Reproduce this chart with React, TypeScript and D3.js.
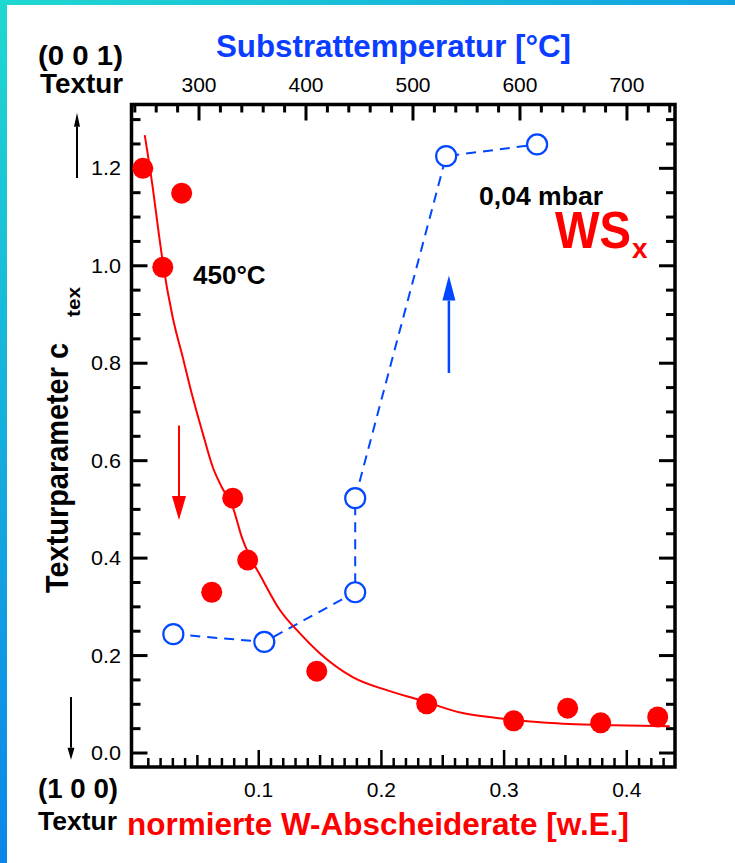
import React, { useRef, useEffect } from 'react';
import * as d3 from 'd3';

// 450°C series: normierte W-Abscheiderate [w.E.] -> Texturparameter
const rateX = [0.0055, 0.0372, 0.0218, 0.0788, 0.091, 0.0617, 0.1473, 0.2369, 0.3078, 0.3518, 0.3787, 0.4252];
const rateY = [1.2, 1.149, 0.997, 0.523, 0.396, 0.33, 0.168, 0.101, 0.066, 0.092, 0.062, 0.074];

// fit curve through the red points
const fitX = [0.0071, 0.0136, 0.0185, 0.0218, 0.0299, 0.0381, 0.0462, 0.0544, 0.0625, 0.0698, 0.0788, 0.0862,
  0.1033, 0.1171, 0.1334, 0.1497, 0.1766, 0.2043, 0.2312, 0.2662, 0.2939, 0.3347, 0.3885, 0.435];
const fitY = [1.268, 1.161, 1.067, 1.007, 0.894, 0.812, 0.73, 0.656, 0.587, 0.546, 0.505, 0.443,
  0.355, 0.294, 0.246, 0.205, 0.156, 0.129, 0.109, 0.082, 0.072, 0.062, 0.057, 0.055];

// 0,04 mbar series: Substrattemperatur [°C] -> Texturparameter
const tempX = [276, 361, 446, 446, 531, 616];
const tempY = [0.244, 0.228, 0.33, 0.523, 1.225, 1.249];

const rateTicks = [0.1, 0.2, 0.3, 0.4];
const tempTicks = [300, 400, 500, 600, 700];
const cTicks = [0.0, 0.2, 0.4, 0.6, 0.8, 1.0, 1.2];

const W = 735;
const H = 863;
const FRAME = { left: 131.5, right: 675, top: 104.5, bottom: 767 };
const RED = '#ff0000';
const BLUE = '#0047ff';
const FONT = '"Liberation Sans", Arial, sans-serif';

const App: React.FC = () => {
  const svgRef = useRef<SVGSVGElement>(null);

  useEffect(() => {
    if (!svgRef.current) return;
    const svg = d3.select(svgRef.current);
    svg.selectAll('*').remove();

    const x = d3.scaleLinear().domain([-0.0037, 0.4393]).range([FRAME.left, FRAME.right]);
    const t = d3.scaleLinear().domain([236.9, 744.9]).range([FRAME.left, FRAME.right]);
    const y = d3.scaleLinear().domain([-0.0287, 1.331]).range([FRAME.bottom, FRAME.top]);

    // Background + gradient frame
    const defs = svg.append('defs');
    const gv = defs.append('linearGradient').attr('id', 'gv').attr('x1', 0).attr('y1', 0).attr('x2', 0).attr('y2', 1);
    gv.append('stop').attr('offset', '0%').attr('stop-color', '#1fd8d0');
    gv.append('stop').attr('offset', '100%').attr('stop-color', '#0a86ea');
    const gh = defs.append('linearGradient').attr('id', 'gh').attr('x1', 0).attr('y1', 0).attr('x2', 1).attr('y2', 0);
    gh.append('stop').attr('offset', '0%').attr('stop-color', '#1fd8d0');
    gh.append('stop').attr('offset', '100%').attr('stop-color', '#12a2e2');

    svg.append('rect').attr('width', W).attr('height', H).attr('fill', '#ffffff');
    svg.append('rect').attr('x', 0).attr('y', 0).attr('width', W).attr('height', 5).attr('fill', 'url(#gh)');
    svg.append('rect').attr('x', 0).attr('y', 0).attr('width', 7).attr('height', H).attr('fill', 'url(#gv)');

    const isMult = (v: number, step: number) => Math.abs(v / step - Math.round(v / step)) < 1e-6;

    // ── ticks ──
    const tk = svg.append('g').attr('stroke', '#000').attr('stroke-width', 3);
    d3.range(0, 1.3001, 0.05).forEach(v => {
      const len = isMult(v, 0.2) ? 16 : 9;
      const yy = y(v);
      tk.append('line').attr('x1', FRAME.left).attr('x2', FRAME.left + len).attr('y1', yy).attr('y2', yy);
      tk.append('line').attr('x1', FRAME.right).attr('x2', FRAME.right - len).attr('y1', yy).attr('y2', yy);
    });
    d3.range(240, 741, 20).forEach(v => {
      const len = v % 100 === 0 ? 16 : 8;
      tk.append('line').attr('x1', t(v)).attr('x2', t(v)).attr('y1', FRAME.top).attr('y2', FRAME.top + len);
    });
    d3.range(0.01, 0.4351, 0.01).forEach(v => {
      const len = isMult(v, 0.1) ? 17 : isMult(v, 0.05) ? 12 : 9;
      tk.append('line').attr('x1', x(v)).attr('x2', x(v)).attr('y1', FRAME.bottom).attr('y2', FRAME.bottom - len)
        .attr('stroke-width', 2.5);
    });

    // frame
    svg.append('rect')
      .attr('x', FRAME.left).attr('y', FRAME.top)
      .attr('width', FRAME.right - FRAME.left).attr('height', FRAME.bottom - FRAME.top)
      .attr('fill', 'none').attr('stroke', '#000').attr('stroke-width', 3.5);

    // tick labels
    const lab = svg.append('g').attr('font-family', FONT).attr('font-size', 21).attr('fill', '#000');
    cTicks.forEach(v => {
      lab.append('text').attr('x', 121).attr('y', y(v) + 7).attr('text-anchor', 'end')
        .attr('font-size', 20).attr('textLength', 30).attr('lengthAdjust', 'spacingAndGlyphs')
        .text(v.toFixed(1));
    });
    tempTicks.forEach(v => {
      lab.append('text').attr('x', t(v)).attr('y', 92).attr('text-anchor', 'middle').text(String(v));
    });
    rateTicks.forEach(v => {
      lab.append('text').attr('x', x(v)).attr('y', 797).attr('text-anchor', 'middle').text(v.toFixed(1));
    });

    const txt = (s: string, px: number, py: number, size: number, color: string, len?: number) => {
      const el = svg.append('text').attr('x', px).attr('y', py)
        .attr('font-family', FONT).attr('font-weight', 'bold').attr('font-size', size)
        .attr('fill', color).text(s);
      if (len) el.attr('textLength', len).attr('lengthAdjust', 'spacingAndGlyphs');
      return el;
    };

    // axis titles
    txt('Substrattemperatur [°C]', 216, 57, 32, '#0a3dff', 355);
    txt('normierte W-Abscheiderate [w.E.]', 127, 835, 31, RED, 502);
    txt('(0 0 1)', 38, 65, 27, '#000', 85);
    txt('Textur', 40, 93, 27, '#000', 83);
    txt('(1 0 0)', 38, 798, 27, '#000', 80);
    txt('Textur', 38, 830, 26, '#000', 79);

    svg.append('text').attr('transform', 'translate(68,593) rotate(-90)')
      .attr('font-family', FONT).attr('font-weight', 'bold').attr('font-size', 32)
      .attr('textLength', 250).attr('lengthAdjust', 'spacingAndGlyphs')
      .text('Texturparameter c');
    svg.append('text').attr('transform', 'translate(80,317) rotate(-90)')
      .attr('font-family', FONT).attr('font-weight', 'bold').attr('font-size', 19)
      .attr('textLength', 30).attr('lengthAdjust', 'spacingAndGlyphs')
      .text('tex');

    // annotations
    txt('450°C', 193, 284, 26, '#000');
    txt('0,04 mbar', 479, 205, 26, '#000', 124);
    const ws = svg.append('text').attr('x', 555).attr('y', 248)
      .attr('font-family', FONT).attr('font-weight', 'bold').attr('fill', RED);
    ws.append('tspan').attr('font-size', 52).attr('textLength', 76).attr('lengthAdjust', 'spacingAndGlyphs').text('WS');
    ws.append('tspan').attr('font-size', 28).attr('dy', 10).attr('dx', 1).text('x');

    // arrows
    const arrow = (ax: number, y0: number, y1: number, headLen: number, half: number, color: string, sw: number) => {
      const dir = y1 < y0 ? 1 : -1; // 1 = pointing up
      const base = y1 + dir * headLen;
      svg.append('line').attr('x1', ax).attr('x2', ax).attr('y1', y0).attr('y2', base)
        .attr('stroke', color).attr('stroke-width', sw);
      svg.append('path')
        .attr('d', `M${ax},${y1}L${ax - half},${base}L${ax + half},${base}Z`)
        .attr('fill', color);
    };
    arrow(77, y(1.18), y(1.314), 14, 3, '#000', 2);
    arrow(71, y(0.115), y(-0.014), 12, 3.5, '#000', 2);
    arrow(x(0.035), y(0.672), y(0.478), 24, 7, RED, 2);
    arrow(x(0.255), y(0.78), y(0.98), 25, 6.5, BLUE, 2.5);

    // ── blue series (temperature) ──
    const tempPts = tempX.map((v, i) => [t(v), y(tempY[i])] as [number, number]);
    svg.append('path').attr('d', d3.line()(tempPts))
      .attr('fill', 'none').attr('stroke', BLUE).attr('stroke-width', 2)
      .attr('stroke-dasharray', '10,7');
    svg.append('g').selectAll('circle').data(tempPts).join('circle')
      .attr('cx', d => d[0]).attr('cy', d => d[1]).attr('r', 10)
      .attr('fill', '#fff').attr('stroke', BLUE).attr('stroke-width', 2.2);

    // ── red series (rate) ──
    const fitPts = fitX.map((v, i) => [x(v), y(fitY[i])] as [number, number]);
    svg.append('path').attr('d', d3.line().curve(d3.curveMonotoneX)(fitPts))
      .attr('fill', 'none').attr('stroke', RED).attr('stroke-width', 2);
    svg.append('g').selectAll('ellipse').data(rateX).join('ellipse')
      .attr('cx', d => x(d)).attr('cy', (d, i) => y(rateY[i]))
      .attr('rx', 10.5).attr('ry', 10.5).attr('fill', RED);
  }, []);

  return (
    <div style={{ position: 'absolute', left: 0, top: 0 }}>
      <svg ref={svgRef} width={W} height={H} style={{ display: 'block' }} />
    </div>
  );
};

export default App;
